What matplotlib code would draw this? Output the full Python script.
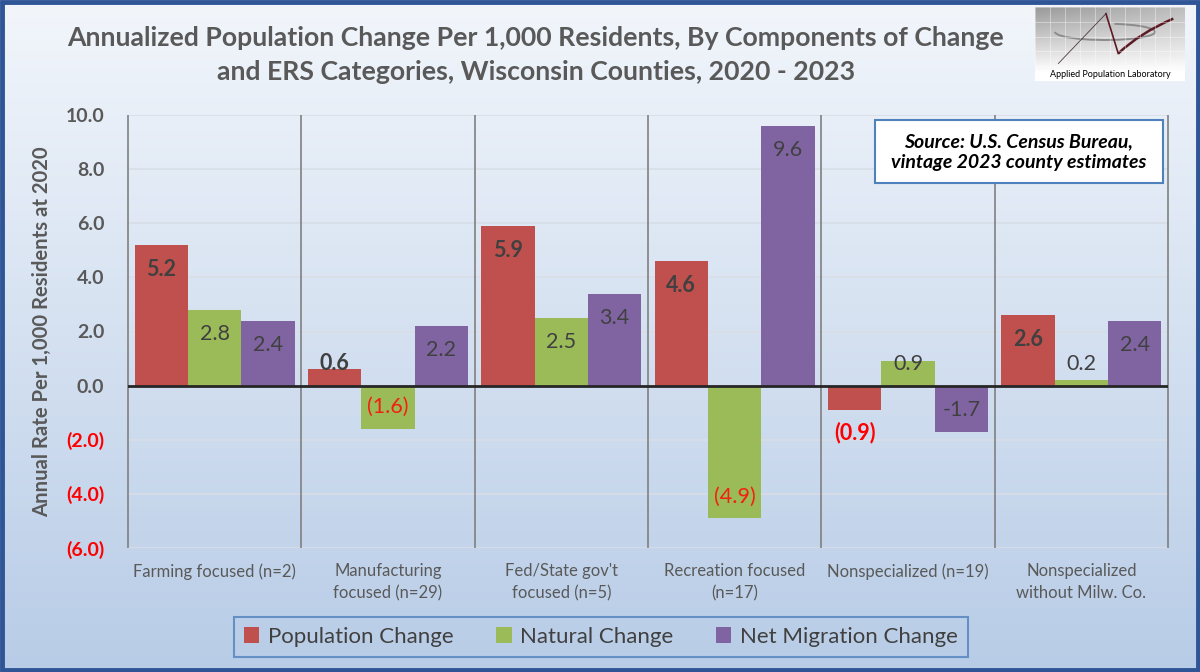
import numpy as np
import matplotlib
matplotlib.use("Agg")
import matplotlib.pyplot as plt
from matplotlib.patches import Rectangle, Arc, PathPatch
from matplotlib.path import Path

plt.rcParams['font.family'] = ['Lato', 'DejaVu Sans']

# ---------------- data ----------------
categories = ["Farming focused (n=2)", "Manufacturing\nfocused (n=29)",
              "Fed/State gov't\nfocused (n=5)", "Recreation focused\n(n=17)",
              "Nonspecialized (n=19)", "Nonspecialized\nwithout Milw. Co."]
series_names = ["Population Change", "Natural Change", "Net Migration Change"]
population_change = [5.2, 0.6, 5.9, 4.6, -0.9, 2.6]
natural_change = [2.8, -1.6, 2.5, -4.9, 0.9, 0.2]
net_migration_change = [2.4, 2.2, 3.4, 9.6, -1.7, 2.4]
y_tick_values = [-6.0, -4.0, -2.0, 0.0, 2.0, 4.0, 6.0, 8.0, 10.0]

title_text = ("Annualized Population Change Per 1,000 Residents, By Components of Change\n"
              "and ERS Categories, Wisconsin Counties, 2020 - 2023")
y_label = "Annual Rate Per 1,000 Residents at 2020"
source_note = "Source: U.S. Census Bureau,\nvintage 2023 county estimates"
logo_text = "Applied Population Laboratory"

# ---------------- styles ----------------
W, H = 1200, 672
colors = ['#C0504D', '#9BBB59', '#8064A2']
text_gray = '#595959'
label_dark = '#404040'
neg_red = '#FF0000'
neg_label_red = '#F2200F'

fig = plt.figure(figsize=(12, 6.72), dpi=100)

# gradient background
bg = fig.add_axes([0, 0, 1, 1], zorder=-10)
g = np.linspace(0, 1, 256)[:, None, None]
top_c = np.array([0.95, 0.965, 0.985])
bot_c = np.array([0.72, 0.80, 0.905])
img = top_c * (1 - g) + bot_c * g
bg.imshow(img, aspect='auto', extent=[0, 1, 0, 1], origin='upper')
bg.set_xlim(0, 1); bg.set_ylim(0, 1)
bg.axis('off')

# outer border
fig.patches.append(Rectangle((0.0015, 0.0025), 0.997, 0.995, transform=fig.transFigure,
                             fill=False, edgecolor='#2F5597', lw=3.5, zorder=20))

# main axes
ax = fig.add_axes([128 / W, 1 - 548 / H, 1040 / W, 433 / H])
ax.set_facecolor('none')
x = np.arange(len(categories))
width = 0.308
series = [population_change, natural_change, net_migration_change]


def label_pos(v):
    if v >= 1:
        return v - 0.9
    if v >= 0:
        return 0.8
    if v <= -1:
        return v + 0.8
    return v - 0.85


handles = []
for i, (vals, col, name) in enumerate(zip(series, colors, series_names)):
    bars = ax.bar(x + (i - 1) * width, vals, width, color=col, label=name, zorder=3)
    handles.append(bars)
    for b, v in zip(bars, vals):
        cx = b.get_x() + b.get_width() / 2
        if i == 2:
            txt = f"{v:.1f}"
        else:
            txt = f"{v:.1f}" if v >= 0 else f"({abs(v):.1f})"
        if v >= 0 or i == 2:
            color = label_dark
        else:
            color = neg_red if i == 0 else neg_label_red
        weight = 'bold' if i == 0 else 'normal'
        ax.text(cx, label_pos(v), txt, ha='center', va='center', fontsize=15.5,
                color=color, fontweight=weight, zorder=5)

ax.set_xlim(-0.5, len(categories) - 0.5)
ax.set_ylim(y_tick_values[0], y_tick_values[-1])
ax.set_yticks(y_tick_values)
ax.yaxis.grid(True, color='#D9DEE6', lw=1.2, zorder=0)
ax.set_axisbelow(True)
for s in ax.spines.values():
    s.set_visible(False)
ax.vlines(np.arange(len(categories) + 1) - 0.5, y_tick_values[0], y_tick_values[-1],
          color='#808080', lw=1.2, zorder=2, clip_on=False)
ax.axhline(0, color='#262626', lw=2, zorder=4)

ax.set_xticks(x)
ax.set_xticklabels(categories, fontsize=12, color=text_gray, linespacing=1.45)
ytl = [f"{v:.1f}" if v >= 0 else f"({abs(v):.1f})" for v in y_tick_values]
ax.set_yticklabels(ytl, fontsize=14, fontweight='bold')
for lab, v in zip(ax.get_yticklabels(), y_tick_values):
    lab.set_color(text_gray if v >= 0 else neg_red)
ax.tick_params(axis='both', length=0)
ax.tick_params(axis='y', pad=17)
ax.tick_params(axis='x', pad=11)

# y label
fig.text(42 / W, 1 - 332 / H, y_label, rotation=90, ha='center', va='center',
         fontsize=14.6, fontweight='bold', color=text_gray)

# title
fig.text(536 / W, 1 - 55 / H, title_text, ha='center', va='center', fontsize=19.2,
         fontweight='bold', color=text_gray, linespacing=1.45)

# source box
fig.patches.append(Rectangle((875 / W, 1 - 183 / H), 288 / W, 63 / H, transform=fig.transFigure,
                             facecolor='white', edgecolor='#4F81BD', lw=1.5, zorder=6))
fig.text(1019 / W, 1 - 152 / H, source_note, ha='center', va='center', fontsize=14,
         fontweight='bold', fontstyle='italic', color='black', linespacing=1.3, zorder=7)

# legend
leg = fig.legend(handles, series_names, loc='center', bbox_to_anchor=(601 / W, 1 - 637 / H),
                 ncol=3, fontsize=16, frameon=True, fancybox=False, edgecolor='#4F81BD',
                 facecolor='none', handlelength=0.7, handleheight=0.7, handletextpad=0.4,
                 columnspacing=1.9, borderpad=0.45, borderaxespad=0)
leg.get_frame().set_linewidth(1.5)
for t in leg.get_texts():
    t.set_color(label_dark)

# logo
lg = fig.add_axes([1035 / W, 1 - 81 / H, 150 / W, 74 / H])
lx = np.linspace(0, 1, 200)[None, :]
ly = np.linspace(0, 1, 100)[:, None]
shade = 1 - 0.4 * np.clip((ly - 0.12) / 0.88, 0, 1) * (1 - 0.35 * lx)
lg.imshow(np.dstack([shade, shade, shade]), extent=[0, 1, 0, 1], origin='lower', aspect='auto')
for gx in np.linspace(0, 1, 11):
    lg.axvline(gx, ymin=0.2, color='white', lw=0.6, alpha=0.45)
for gy in np.linspace(0.2, 1, 5):
    lg.axhline(gy, color='white', lw=0.6, alpha=0.45)
lg.add_patch(Arc((0.467, 0.664), 0.667, 0.22, theta1=180, theta2=420, color='#8C8C8C', lw=1.4))
lg.plot([0.156, 0.473], [0.237, 0.91], color='#4A3A3A', lw=0.6)
lg.plot([0.473, 0.555], [0.91, 0.372], color='#5C1A25', lw=1.2)
verts = [(0.555, 0.372), (0.70, 0.65), (0.922, 0.843)]
lg.add_patch(PathPatch(Path(verts, [Path.MOVETO, Path.CURVE3, Path.CURVE3]),
                       fill=False, edgecolor='#5C1A25', lw=1.8))
lg.text(0.5, 0.094, logo_text, ha='center', va='center', fontsize=6.5, color='black')
lg.set_xlim(0, 1); lg.set_ylim(0, 1)
lg.axis('off')

fig.savefig('out.png', dpi=100)
